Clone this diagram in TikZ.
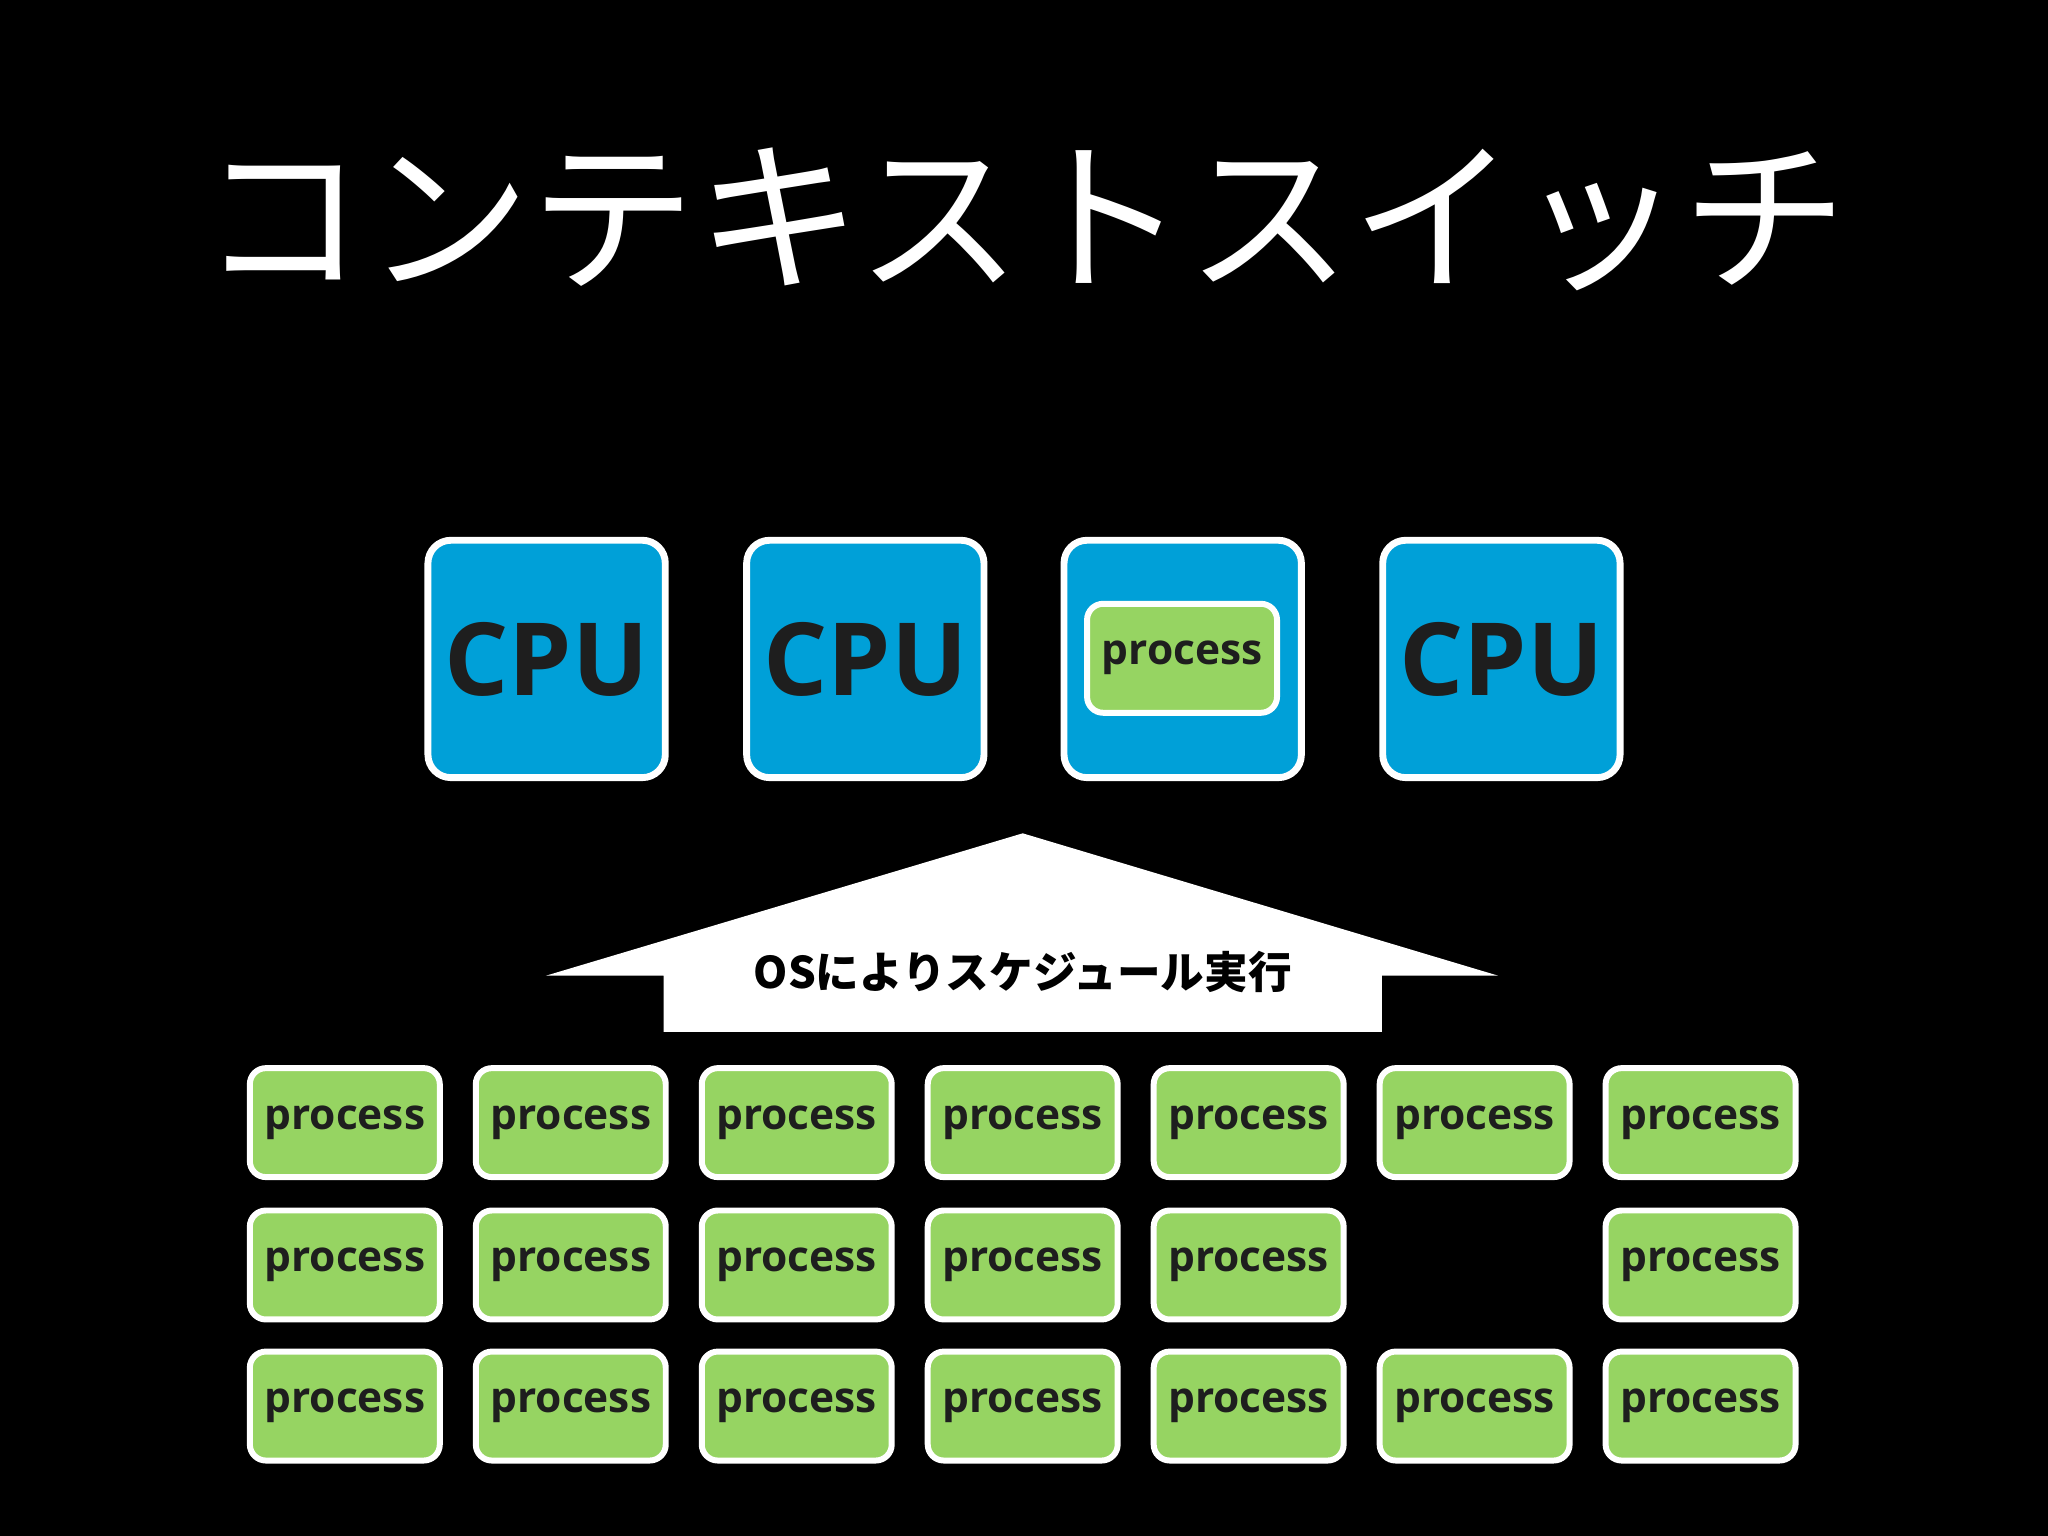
\documentclass[tikz,border=0pt]{standalone}
\usepackage{fontspec}
\setmainfont{Open Sans}
\newfontfamily\jp{Noto Sans CJK JP}
\definecolor{cpublue}{HTML}{00A0D8}
\definecolor{procgreen}{HTML}{96D462}
\definecolor{ink}{HTML}{1E1E1E}
\begin{document}
\begin{tikzpicture}[x=0.02cm,y=-0.02cm,
  cpu/.style={draw=white,line width=3pt,fill=cpublue,rounded corners=10pt,minimum width=187*0.02cm-3pt,minimum height=187*0.02cm-3pt,inner sep=0pt,font=\fontsize{44}{44}\selectfont\bfseries,text=ink},
  proc/.style={draw=white,line width=2.6pt,fill=procgreen,rounded corners=7pt,minimum width=150*0.02cm-2.6pt,minimum height=88*0.02cm-2.6pt,inner sep=0pt,font=\fontsize{18.5}{18.5}\selectfont\bfseries,text=ink}]
\fill[black] (0,0) rectangle (1568,1176);
\useasboundingbox (0,0) rectangle (1568,1176);
\node[text=white,font=\jp\fontsize{72}{72}\selectfont] (title) at (784,168) {コンテキストスイッチ};
\node[cpu] (c1) at (418.5,504.5) {CPU};
\node[cpu] (c2) at (662.5,504.5) {CPU};
\node[cpu] (c3) at (905.5,504.5) {};
\node[cpu] (c4) at (1149.5,504.5) {CPU};
\node[proc,minimum width=150*0.02cm-2.6pt] (cp) at (905,504) {process};
\fill[white] (418,747) -- (783,638) -- (1147,747) -- (1058,747) -- (1058,790) -- (508,790) -- (508,747) -- cycle;
\node[font=\jp\bfseries\fontsize{19}{19}\selectfont,text=black] (lbl) at (783,744) {OSによりスケジュール実行};
\foreach \c/\x in {1/264,2/437,3/610,4/783,5/956,6/1129,7/1302}{
  \foreach \r/\y in {1/859.5,2/968.5,3/1076.5}{
    \ifnum\c\r=62\else
    \node[proc] (p\c\r) at (\x,\y) {process};
    \fi
  }
}
\end{tikzpicture}
\end{document}
